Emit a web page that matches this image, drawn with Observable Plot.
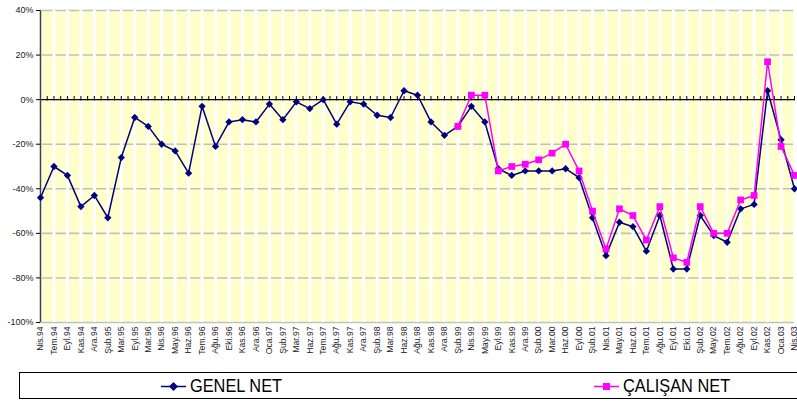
<!DOCTYPE html>
<html><head><meta charset="utf-8">
<script src="https://cdn.jsdelivr.net/npm/d3@7"></script>
<script src="https://cdn.jsdelivr.net/npm/@observablehq/plot@0.6"></script>
<style>
html,body{margin:0;padding:0;background:#fff;}
body{width:797px;height:403px;overflow:hidden;position:relative;}
#chart svg{display:block;}
#legend{position:absolute;left:19px;top:372px;width:800px;height:27px;border:1px solid #000;box-sizing:border-box;
  font-family:"Liberation Sans",Arial,sans-serif;font-size:19px;color:#000;}
#legend .item{position:absolute;top:2px;display:flex;align-items:center;height:22px;white-space:nowrap;}
#legend svg{margin-right:3px;flex:none;}
#legend span{display:inline-block;transform:scaleX(0.86);transform-origin:left center;}
</style>
</head><body>
<div id="chart"></div>
<div id="legend"></div>
<script>
const months = ["Nis.94","Tem.94","Eyl.94","Kas.94","Ara.94","Şub.95","Mar.95","Eyl.95","Mar.96","Nis.96",
"May.96","Haz.96","Tem.96","Ağu.96","Eki.96","Kas.96","Ara.96","Oca.97","Şub.97","Mar.97",
"Haz.97","Tem.97","Ağu.97","Kas.97","Ara.97","Şub.98","Mar.98","Haz.98","Ağu.98","Kas.98",
"Ara.98","Şub.99","Nis.99","May.99","Eyl.99","Kas.99","Ara.99","Şub.00","Mar.00","Haz.00",
"Eyl.00","Şub.01","Nis.01","May.01","Haz.01","Tem.01","Ağu.01","Eyl.01","Eki.01","Şub.02",
"May.02","Tem.02","Ağu.02","Eyl.02","Kas.02","Oca.03","Nis.03"];

const genelNet = [-44,-30,-34,-48,-43,-53,-26,-8,-12,-20,
-23,-33,-3,-21,-10,-9,-10,-2,-9,-1,
-4,0,-11,-1,-2,-7,-8,4,2,-10,
-16,-12,-3,-10,-31,-34,-32,-32,-32,-31,
-35,-53,-70,-55,-57,-68,-52,-76,-76,-52,
-61,-64,-49,-47,4,-18,-40];

const calisanNet = [null,null,null,null,null,null,null,null,null,null,
null,null,null,null,null,null,null,null,null,null,
null,null,null,null,null,null,null,null,null,null,
null,-12,2,2,-32,-30,-29,-27,-24,-20,
-32,-50,-67,-49,-52,-63,-48,-71,-73,-48,
-60,-60,-45,-43,17,-21,-34];

const yTicks = [-100,-80,-60,-40,-20,0,20,40];
const seriesNames = ["GENEL NET","ÇALIŞAN NET"];
const seriesColors = ["#000080","#FF00FF"];

const idx = months.map((m,i)=>i);
const halfIdx = idx.slice(0,-1).map(i=>i+0.5);
const rows = months.map((m,i)=>({i, m, genel: genelNet[i], calisan: calisanNet[i]}));

const chart = Plot.plot({
  width: 797, height: 368,
  marginLeft: 40, marginRight: 3, marginTop: 10, marginBottom: 46,
  style: {background: "transparent", fontFamily: "'Liberation Sans', Arial, sans-serif", overflow: "visible"},
  x: {type: "linear", domain: [0, months.length - 1]},
  y: {domain: [-100, 40]},
  marks: [
    Plot.frame({fill: "#FFFFCC", stroke: null}),
    Plot.ruleY(yTicks.filter(d=>d!==0), {stroke: "#c0c0c0", strokeWidth: 1.6}),
    Plot.ruleX(idx, {stroke: "#ffffff", strokeWidth: 3}),
    Plot.ruleY([0], {stroke: "#000", strokeWidth: 1.3}),
    Plot.ruleX(idx, {y1: -0.6, y2: 1.4, stroke: "#000", strokeWidth: 1}),
    Plot.ruleX(halfIdx, {y1: -0.6, y2: 1.4, stroke: "#000", strokeWidth: 1}),
    Plot.ruleX([0], {stroke: "#404040", strokeWidth: 1.5}),
    Plot.axisY({ticks: yTicks, tickFormat: d => d + "%", tickSize: 4, tickPadding: 3, fontSize: 9, color: "#222", stroke: "#000"}),
    Plot.axisX({ticks: idx, tickFormat: i => months[i], tickRotate: -90, tickSize: 0, tickPadding: 4, fontSize: 8.6, color: "#222", label: null}),
    Plot.line(rows, {x: "i", y: "genel", stroke: seriesColors[0], strokeWidth: 1.5}),
    Plot.dot(rows, {x: "i", y: "genel", symbol: "diamond2", r: 3.3, fill: seriesColors[0], stroke: null}),
    Plot.line(rows, {x: "i", y: "calisan", stroke: seriesColors[1], strokeWidth: 1.5}),
    Plot.dot(rows.filter(d=>d.calisan!=null), {x: "i", y: "calisan", symbol: "square", r: 3.8, fill: seriesColors[1], stroke: null})
  ]
});
document.getElementById("chart").append(chart);

// legend
const legend = document.getElementById("legend");
const legendLeft = [141, 574];
seriesNames.forEach((name, i) => {
  const item = document.createElement("div");
  item.className = "item";
  item.style.left = legendLeft[i] + "px";
  const c = seriesColors[i];
  const mark = i === 0
    ? `<path d="M12.5,2 L17,6.5 L12.5,11 L8,6.5Z" fill="${c}"/>`
    : `<rect x="9" y="3" width="7" height="7" fill="${c}"/>`;
  item.innerHTML = `<svg width="26" height="13"><line x1="0" x2="25" y1="6.5" y2="6.5" stroke="${c}" stroke-width="1.5"/>${mark}</svg><span>${name}</span>`;
  legend.append(item);
});
</script>
</body></html>
